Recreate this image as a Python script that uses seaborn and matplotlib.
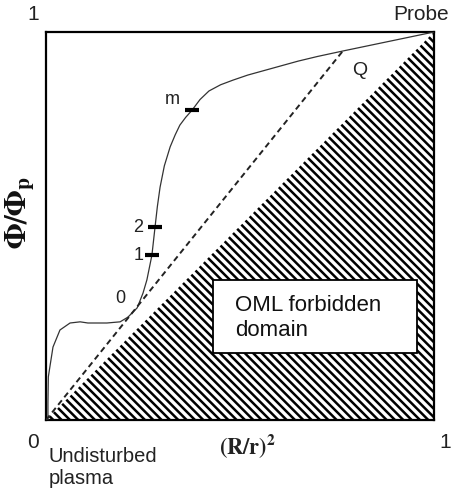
import matplotlib
matplotlib.use("Agg")
import matplotlib.pyplot as plt
import seaborn as sns
import pandas as pd
from matplotlib.patches import Rectangle

# ---- data ----
curve_x = [0.0, 0.005, 0.005, 0.006, 0.010, 0.018, 0.036, 0.062, 0.088, 0.108, 0.157,
           0.191, 0.211, 0.235, 0.250, 0.260, 0.273, 0.281, 0.287, 0.294, 0.305,
           0.320, 0.333, 0.345, 0.360, 0.376, 0.397, 0.420, 0.450, 0.482, 0.520,
           0.585, 0.650, 0.700, 0.765, 1.0]
curve_y = [0.0, 0.0, 0.044, 0.111, 0.137, 0.188, 0.232, 0.250, 0.253, 0.250, 0.250,
           0.253, 0.265, 0.289, 0.327, 0.361, 0.425, 0.497, 0.550, 0.600, 0.655,
           0.704, 0.735, 0.760, 0.780, 0.798, 0.826, 0.848, 0.864, 0.876, 0.889,
           0.907, 0.925, 0.937, 0.951, 1.0]
dashed_x = [0.0, 0.765]
dashed_y = [0.0, 0.951]
oml_x = [0.0, 1.0]
oml_y = [0.0, 1.0]
mark_x = [0.273, 0.281, 0.376]
mark_y = [0.425, 0.497, 0.798]
mark_labels = ["1", "2", "m"]
mark_label_pos = [(0.240, 0.425), (0.237, 0.497), (0.325, 0.825)]
zero_label_pos = (0.191, 0.314)
q_label_pos = (0.809, 0.902)

sns.set_style("white")
plt.rcParams["font.family"] = ["Liberation Sans", "DejaVu Sans"]
plt.rcParams["mathtext.fontset"] = "stix"
plt.rcParams["hatch.linewidth"] = 1.8

W, H = 452, 493
fig = plt.figure(figsize=(W / 100, H / 100), dpi=100)
ax = fig.add_axes([46 / W, (H - 420) / H, 388 / W, 388 / H])

# forbidden (hatched) domain
ax.fill_between(oml_x, [0, 0], oml_y, facecolor="white", edgecolor="black",
                hatch="\\\\\\\\", linewidth=0, zorder=1)

# white box with text
ax.add_patch(Rectangle((0.43, 0.173), 0.526, 0.188, facecolor="white",
                       edgecolor="black", linewidth=1.3, zorder=2))
ax.text(0.487, 0.263, "OML forbidden\ndomain", fontsize=16, ha="left",
        va="center", linespacing=1.25, zorder=3, color="#111111")

curve_df = pd.DataFrame({"x": curve_x, "y": curve_y})
sns.lineplot(data=curve_df, x="x", y="y", ax=ax, estimator=None, sort=False,
             color="#333333", linewidth=0.9, zorder=4)
dash_df = pd.DataFrame({"x": dashed_x, "y": dashed_y})
sns.lineplot(data=dash_df, x="x", y="y", ax=ax, estimator=None, sort=False,
             color="#222222", linewidth=1.4, linestyle=(0, (3, 2)), zorder=4)

mark_df = pd.DataFrame({"x": mark_x, "y": mark_y})
sns.scatterplot(data=mark_df, x="x", y="y", ax=ax, marker="_", s=90,
                color="black", linewidth=3, zorder=5)
for lab, (lx, ly) in zip(mark_labels, mark_label_pos):
    ax.text(lx, ly, lab, fontsize=13, ha="center", va="center", color="#222222")
ax.text(*zero_label_pos, "0", fontsize=13, ha="center", va="center", color="#222222")
ax.text(*q_label_pos, "Q", fontsize=14, ha="center", va="center", color="#222222")

ax.set_xlim(0, 1)
ax.set_ylim(0, 1)
ax.set_xticks([])
ax.set_yticks([])
ax.set_xlabel("")
ax.set_ylabel("")
for s in ax.spines.values():
    s.set_visible(True)
    s.set_linewidth(1.6)
    s.set_color("black")

def ftext(px, py, s, **kw):
    fig.text(px / W, 1 - py / H, s, **kw)

ftext(33, 15, "1", fontsize=15, ha="center", va="center", color="#222222")
ftext(449, 14, "Probe", fontsize=15, ha="right", va="center", color="#222222")
ftext(33, 442, "0", fontsize=15, ha="center", va="center", color="#222222")
ftext(451, 442, "1", fontsize=15, ha="right", va="center", color="#222222")
ftext(49, 447, "Undisturbed\nplasma", fontsize=14.5, ha="left", va="top",
      linespacing=1.2, color="#222222")
ftext(247, 446, r"$\mathbf{(R/r)^2}$", fontsize=16, ha="center", va="center",
      color="#222222")
ftext(20, 212, r"$\mathbf{\Phi/\Phi_p}$", fontsize=22, ha="center", va="center",
      rotation=90, color="#111111")

fig.savefig("out.png", dpi=100)
